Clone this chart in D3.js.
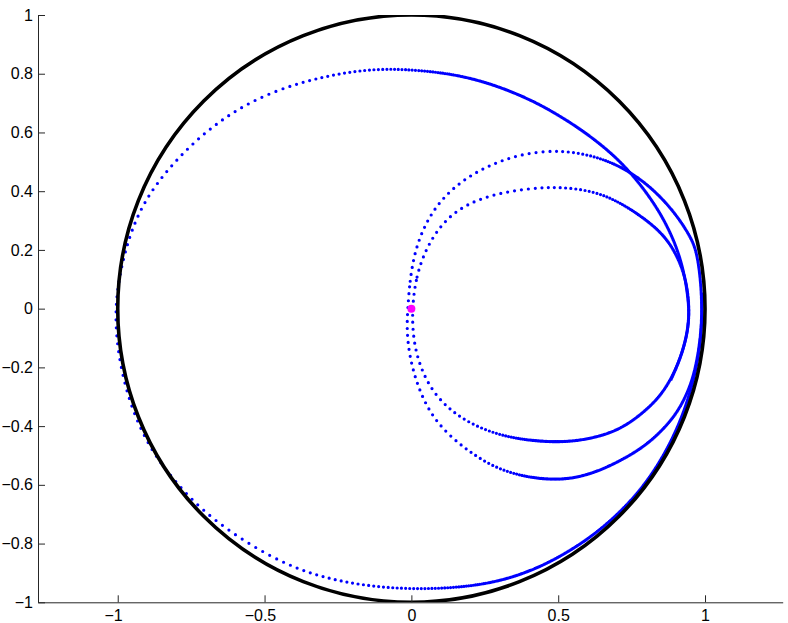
<!DOCTYPE html>
<html>
<head>
<meta charset="utf-8">
<script src="https://cdnjs.cloudflare.com/ajax/libs/d3/7.8.5/d3.min.js"></script>
<style>
  body { margin: 0; background: #fff; }
  svg { display: block; }
  .tick text { font-family: "Liberation Sans", Arial, Helvetica, sans-serif; font-size: 16px; fill: #000; }
</style>
</head>
<body>
<div id="chart"></div>
<script>
// tick values on both axes
const xTicks = [-1, -0.5, 0, 0.5, 1];
const yTicks = [-1, -0.8, -0.6, -0.4, -0.2, 0, 0.2, 0.4, 0.6, 0.8, 1];

// unit circle radius and the start point (magenta)
const circleRadius = 1;
const startPoint = [[0, 0]];

// blue orbit, as [x, y]
const innerLoop = [
  [0.002, 0], [0.016, 0.11], [0.05, 0.205], [0.097, 0.28], [0.154, 0.335],
  [0.233, 0.375], [0.324, 0.398], [0.41, 0.41], [0.505, 0.415], [0.619, 0.401],
  [0.705, 0.365], [0.778, 0.318], [0.84, 0.27], [0.891, 0.21], [0.935, 0.11],
  [0.948, 0], [0.94, -0.085], [0.918, -0.165], [0.885, -0.24], [0.845, -0.3],
  [0.8, -0.345], [0.74, -0.392], [0.676, -0.425], [0.59, -0.447], [0.505, -0.455],
  [0.41, -0.45], [0.312, -0.434], [0.222, -0.402], [0.142, -0.355], [0.074, -0.287],
  [0.029, -0.198], [0.006, -0.105]
];
const outerLoop = [
  [-0.012, 0], [-0.006, 0.09], [0.012, 0.2], [0.052, 0.3], [0.108, 0.38],
  [0.188, 0.448], [0.29, 0.5], [0.392, 0.53], [0.505, 0.54], [0.619, 0.522],
  [0.72, 0.482], [0.81, 0.42], [0.891, 0.336], [0.945, 0.255], [0.971, 0.2],
  [0.985, 0.1], [0.99, 0], [0.986, -0.08], [0.976, -0.16], [0.955, -0.255],
  [0.91, -0.35], [0.85, -0.42], [0.78, -0.48], [0.676, -0.537], [0.59, -0.57],
  [0.505, -0.584], [0.4, -0.576], [0.3, -0.548], [0.222, -0.505], [0.131, -0.436],
  [0.063, -0.357], [0.018, -0.256], [-0.008, -0.155], [-0.016, -0.065]
];
const bigLoop = [
  [0.885, -0.24], [0.918, -0.165], [0.94, -0.085], [0.946, -0.02], [0.942, 0.04],
  [0.928, 0.13], [0.895, 0.235], [0.835, 0.35], [0.75, 0.462], [0.67, 0.54],
  [0.584, 0.606], [0.5, 0.66], [0.414, 0.708], [0.3, 0.756], [0.189, 0.789],
  [0.08, 0.807], [-0.03, 0.815], [-0.1, 0.816], [-0.21, 0.808], [-0.38, 0.772],
  [-0.55, 0.708], [-0.71, 0.6], [-0.85, 0.455], [-0.93, 0.33], [-0.975, 0.2],
  [-1, 0.08], [-1.008, -0.02], [-1.002, -0.12], [-0.985, -0.22], [-0.958, -0.32],
  [-0.92, -0.415], [-0.87, -0.505], [-0.8, -0.595], [-0.709, -0.69], [-0.595, -0.775],
  [-0.482, -0.843], [-0.368, -0.895], [-0.24, -0.93], [-0.1, -0.95], [0.03, -0.955],
  [0.16, -0.95], [0.3, -0.93], [0.43, -0.885], [0.55, -0.82], [0.66, -0.742],
  [0.778, -0.626], [0.87, -0.487], [0.935, -0.34], [0.975, -0.19], [0.99, -0.06],
  [0.99, 0.05]
];

// marker spacing in px: [x where it starts to shrink, spacing there, x where it looks solid]
var spacing = {
  big:   { top: [-0.45, 7.6, 0.22], bottom: [-0.5, 8, 0.32] },
  outer: { top: [0.45, 7, 0.72],    bottom: [0.15, 7, 0.45] },
  inner: { top: [0.4, 7, 0.8],      bottom: [0.1, 7, 0.42] }
};

var svgWidth = 788, svgHeight = 623;
var plot = { left: 38, right: 782.7, top: 15, bottom: 602.3 };

var svg = d3.select("#chart").append("svg")
  .attr("width", svgWidth)
  .attr("height", svgHeight);

var x = d3.scaleLinear().domain([-1.2715, 1.2645]).range([plot.left, plot.right]);
var y = d3.scaleLinear().domain([-1, 1]).range([plot.bottom, plot.top]);

svg.append("clipPath").attr("id", "clip")
  .append("rect")
  .attr("x", plot.left).attr("y", plot.top)
  .attr("width", plot.right - plot.left)
  .attr("height", plot.bottom - plot.top);

var area = svg.append("g").attr("clip-path", "url(#clip)");

// dash pattern that puts one dot every few px, spacing depends on where we are
function dashFor(node, rule) {
  var total = node.getTotalLength(), arr = [], len = 0;
  while (len < total) {
    var p = node.getPointAtLength(len);
    var r = y.invert(p.y) >= 0 ? rule.top : rule.bottom;
    var dx = x.invert(p.x);
    var g = dx <= r[0] ? r[1]
      : dx >= r[2] ? 1.3
      : r[1] + (1.3 - r[1]) * (dx - r[0]) / (r[2] - r[0]);
    arr.push(0, g.toFixed(2));
    len += g;
  }
  return arr.join(" ");
}

var closedLine = d3.line().x(d => x(d[0])).y(d => y(d[1])).curve(d3.curveBasisClosed);
var openLine = d3.line().x(d => x(d[0])).y(d => y(d[1])).curve(d3.curveBasis);

var orbit = [
  { name: "inner", pts: innerLoop, line: closedLine },
  { name: "outer", pts: outerLoop, line: closedLine },
  { name: "big", pts: bigLoop, line: openLine }
];

area.selectAll(".orbit")
  .data(orbit)
  .enter()
  .append("path")
  .attr("class", "orbit")
  .attr("fill", "none")
  .attr("stroke", "#0000ff")
  .attr("stroke-width", 3.2)
  .attr("stroke-linecap", "round")
  .attr("d", d => d.line(d.pts))
  .each(function (d) {
    d3.select(this).attr("stroke-dasharray", dashFor(this, spacing[d.name]));
  });

// unit circle
area.append("ellipse")
  .attr("cx", x(0))
  .attr("cy", y(0))
  .attr("rx", x(circleRadius) - x(0))
  .attr("ry", y(0) - y(circleRadius))
  .attr("fill", "none")
  .attr("stroke", "#000")
  .attr("stroke-width", 3.6);

svg.selectAll(".start")
  .data(startPoint)
  .enter()
  .append("circle")
  .attr("class", "start")
  .attr("cx", d => x(d[0]))
  .attr("cy", d => y(d[1]))
  .attr("r", 4)
  .attr("fill", "#ff00ff");

// axes, ticks pointing inwards like matlab
var fmt = d3.format("");
var leftAxis = d3.axisLeft(y).tickValues(yTicks).tickFormat(fmt)
  .tickSizeInner(-7).tickSizeOuter(0).tickPadding(5);
var bottomAxis = d3.axisBottom(x).tickValues(xTicks).tickFormat(fmt)
  .tickSizeInner(-7).tickSizeOuter(0).tickPadding(7.3);

var gy = svg.append("g")
  .attr("transform", `translate(${plot.left}, 0)`)
  .call(leftAxis);
var gx = svg.append("g")
  .attr("transform", `translate(0, ${plot.bottom})`)
  .call(bottomAxis);

[gx, gy].forEach(g => {
  g.attr("font-family", null).attr("font-size", null);
  g.select(".domain").attr("stroke", "#262626");
  g.selectAll(".tick line").attr("stroke", "#262626");
});

// matlab centres the digits, the minus sign hangs to the left
gx.selectAll(".tick text")
  .attr("dx", d => d < 0 ? -4.6 : 0);
</script>
</body>
</html>
